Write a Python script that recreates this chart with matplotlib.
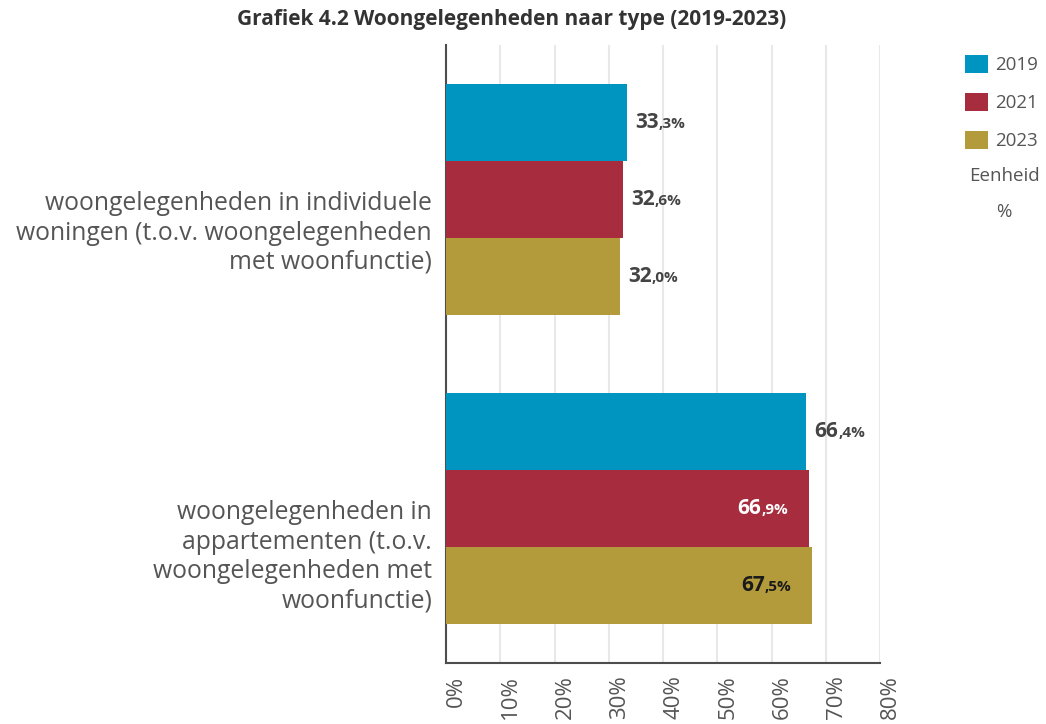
import matplotlib
matplotlib.use("Agg")
import matplotlib.pyplot as plt
from matplotlib.patches import Patch
from matplotlib.offsetbox import TextArea, HPacker, AnnotationBbox
import numpy as np

plt.rcParams['font.family'] = ['Open Sans', 'DejaVu Sans']

categories = ["woongelegenheden in individuele\nwoningen (t.o.v. woongelegenheden\nmet woonfunctie)",
              "woongelegenheden in\nappartementen (t.o.v.\nwoongelegenheden met\nwoonfunctie)"]
years = ["2019", "2021", "2023"]
v2019 = [33.3, 66.4]
v2021 = [32.6, 66.9]
v2023 = [32.0, 67.5]
colors = ["#0095c1", "#a72c3d", "#b39b3c"]
ticks = [0, 10, 20, 30, 40, 50, 60, 70, 80]

fig = plt.figure(figsize=(10.46, 7.24), dpi=100)
ax = fig.add_axes([446/1046, 1-663/724, 434/1046, 618/724])

y = np.arange(len(categories))
h = 0.25
series = [v2019, v2021, v2023]
# label placement: None = outside, otherwise inside with that text color
inside = [[None, None], [None, "white"], [None, "#1a1a1a"]]


def value_label(v, yy, color, outside):
    whole, dec = ("%.1f" % v).split(".")
    big = TextArea(whole, textprops=dict(fontsize=15, fontweight="bold", color=color))
    small = TextArea("," + dec + "%", textprops=dict(fontsize=11, fontweight="bold", color=color))
    box = HPacker(children=[big, small], align="baseline", pad=0, sep=0)
    if outside:
        ab = AnnotationBbox(box, (v, yy), xybox=(6, 0), boxcoords="offset points",
                            box_alignment=(0, 0.5), frameon=False, pad=0)
    else:
        ab = AnnotationBbox(box, (v, yy), xybox=(-15, 0), boxcoords="offset points",
                            box_alignment=(1, 0.5), frameon=False, pad=0)
    ab.set_zorder(5)
    ax.add_artist(ab)


for i, vals in enumerate(series):
    ax.barh(y + (i - 1) * h, vals, h, color=colors[i], zorder=3)
    for j, v in enumerate(vals):
        yy = y[j] + (i - 1) * h
        if inside[i][j] is None:
            value_label(v, yy, "#444444", True)
        else:
            value_label(v, yy, inside[i][j], False)

ax.set_ylim(1.5, -0.5)
ax.set_xlim(0, 80)
ax.set_yticks(y)
ax.set_yticklabels([])
ax.tick_params(axis="y", length=0)
for yi, cat in zip(y, categories):
    ax.annotate(cat, xy=(0, yi), xycoords=("axes fraction", "data"), xytext=(-10, 6),
                textcoords="offset points", ha="right", va="top", fontsize=17.8,
                color="#555555", linespacing=1.23)

ax.set_xticks(ticks)
ax.set_xticklabels([f"{t}%" for t in ticks], rotation=90, ha="left", va="top",
                   fontsize=16, color="#555555")
ax.tick_params(axis="x", length=0, pad=9)
ax.grid(axis="x", color="#e8e8e8", linewidth=1.5, zorder=0)
ax.grid(axis="y", visible=False)
for s in ["top", "right"]:
    ax.spines[s].set_visible(False)
for s in ["left", "bottom"]:
    ax.spines[s].set_color("#4d4d4d")
    ax.spines[s].set_linewidth(1.5)

fig.text(512/1046, 1-20/724, "Grafiek 4.2 Woongelegenheden naar type (2019-2023)",
         ha="center", va="center", fontsize=15, fontweight="bold", color="#333333")

handles = [Patch(facecolor=c) for c in colors]
fig.legend(handles, years, loc="upper left", bbox_to_anchor=(948/1046, 1-38/724),
           frameon=False, fontsize=13.5, handlelength=1.25, handleheight=1.1,
           handletextpad=0.35, labelspacing=1.0, labelcolor="#555555")
fig.text(1004/1046, 1-176/724, "Eenheid", ha="center", va="center", fontsize=13.5, color="#555555")
fig.text(1004/1046, 1-212/724, "%", ha="center", va="center", fontsize=13.5, color="#555555")

fig.savefig("out.png", dpi=100)
